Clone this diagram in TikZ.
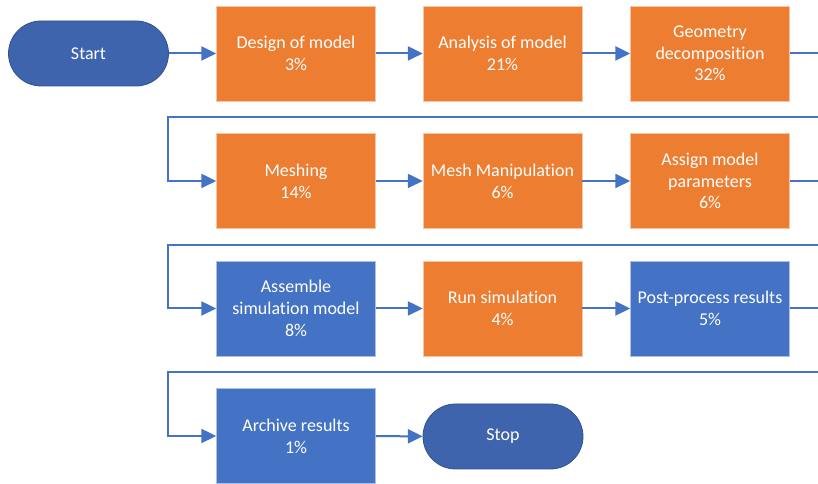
\documentclass[tikz,border=0pt]{standalone}
\usepackage{fontspec}
\setmainfont{Carlito}[Ligatures=NoCommon]
\usetikzlibrary{arrows.meta}
\definecolor{orng}{HTML}{ED7D31}
\definecolor{blu}{HTML}{4472C4}
\definecolor{term}{HTML}{3E64AD}
\definecolor{termedge}{HTML}{2F528F}
\definecolor{lin}{HTML}{4472C4}
\tikzset{
  base/.style={text=white, font=\fontsize{13.5}{16.3}\selectfont, align=center, inner sep=0pt},
  obox/.style={base, rectangle, fill=orng, draw=orng!45!white, line width=0.6pt, minimum width=119.25pt, minimum height=71.25pt},
  bbox/.style={base, rectangle, fill=blu, draw=blu!45!white, line width=0.6pt, minimum width=119.25pt, minimum height=71.25pt},
  term/.style={base, rectangle, rounded corners=24.4pt, fill=term, draw=termedge, line width=0.6pt, minimum width=120pt, minimum height=48.75pt},
  arr/.style={draw=lin, line width=1.5pt, -{Triangle[length=11pt,width=10.5pt]}},
}
\begin{document}
\begin{tikzpicture}[x=0.75pt,y=-0.75pt]
\useasboundingbox (0,0) rectangle (818,484);
\clip (0,0) rectangle (818,484);
\node[term] (start) at (88.5,53.5) {Start};
\node[obox] (design) at (296,53.5) {Design of model\\3\%};
\node[obox] (analysis) at (502.5,53.5) {Analysis of model\\21\%};
\node[obox] (geom) at (710,53.5) {Geometry\\decomposition\\32\%};
\node[obox] (mesh) at (296,181) {Meshing\\14\%};
\node[obox] (meshman) at (502.5,181) {Mesh Manipulation\\6\%};
\node[obox] (assign) at (710,181) {Assign model\\parameters\\6\%};
\node[bbox] (assemble) at (296,308.5) {Assemble\\simulation model\\8\%};
\node[obox] (run) at (502.5,308.5) {Run simulation\\4\%};
\node[bbox] (post) at (710,308.5) {Post-process results\\5\%};
\node[bbox] (archive) at (296,436) {Archive results\\1\%};
\node[term] (stop) at (503,436.5) {Stop};

\coordinate (rx) at (835,0);
\coordinate (lx) at (168,0);

\draw[arr] (start) -- (design);
\draw[arr] (design) -- (analysis);
\draw[arr] (analysis) -- (geom);
\draw[arr] (geom.east) -- (geom.east -| rx) -- ([yshift=-48pt]geom.east -| rx) -- ([yshift=-48pt]geom.east -| lx) |- (mesh.west);
\draw[arr] (mesh) -- (meshman);
\draw[arr] (meshman) -- (assign);
\draw[arr] (assign.east) -- (assign.east -| rx) -- ([yshift=-48pt]assign.east -| rx) -- ([yshift=-48pt]assign.east -| lx) |- (assemble.west);
\draw[arr] (assemble) -- (run);
\draw[arr] (run) -- (post);
\draw[arr] (post.east) -- (post.east -| rx) -- ([yshift=-48pt]post.east -| rx) -- ([yshift=-48pt]post.east -| lx) |- (archive.west);
\draw[arr] (archive) -- (stop);
\end{tikzpicture}
\end{document}
